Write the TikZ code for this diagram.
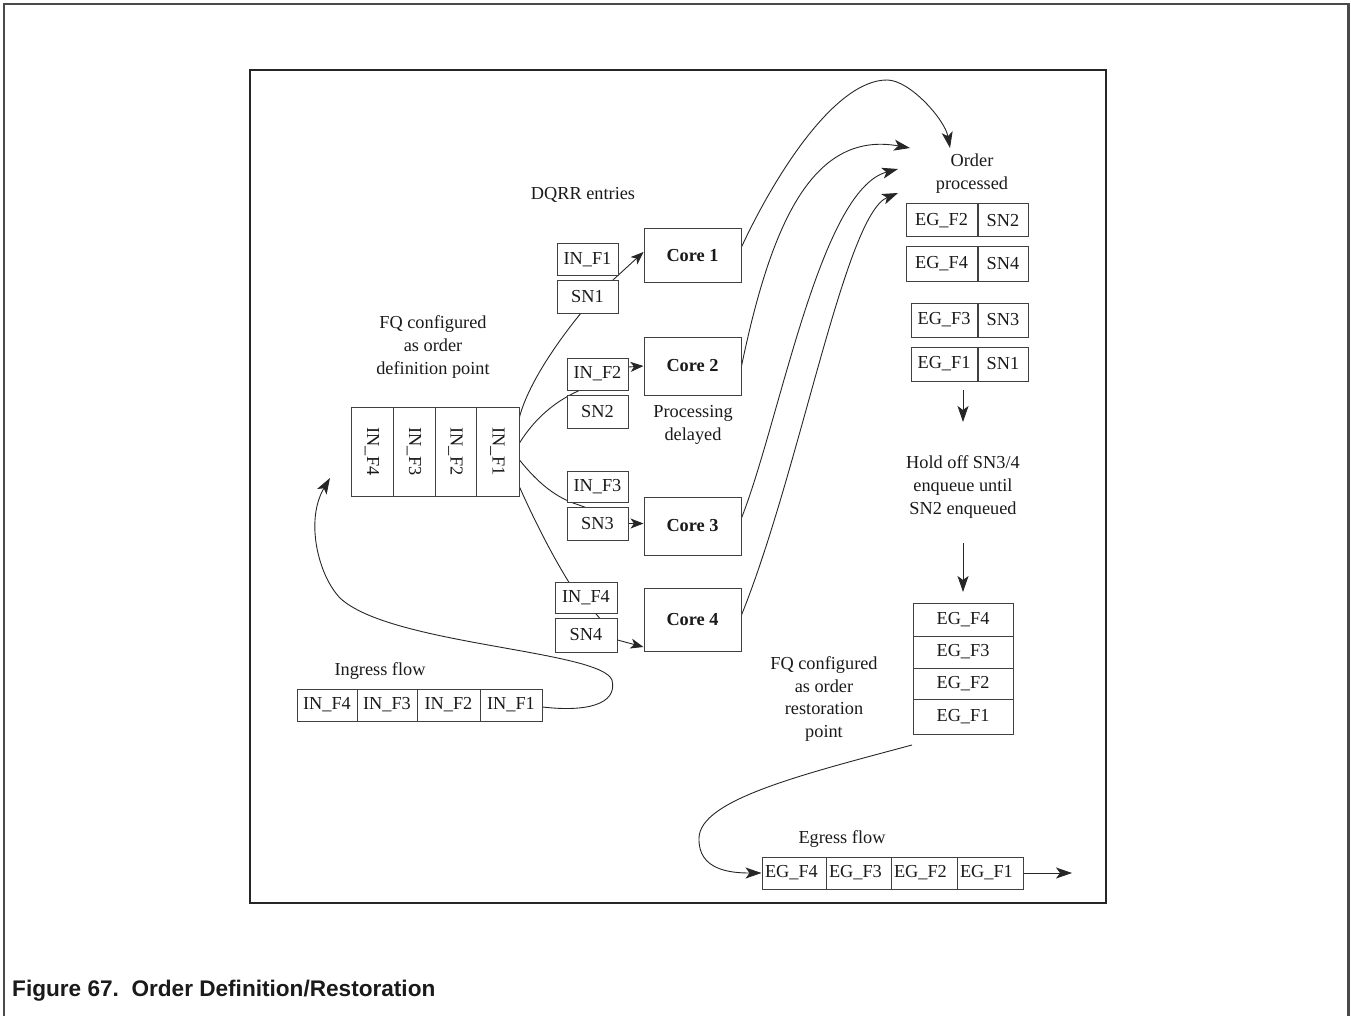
\documentclass[tikz,border=0pt]{standalone}
\usepackage{fontspec}
\setmainfont{Liberation Serif}
\newfontfamily\capfont{Liberation Sans}
\usetikzlibrary{arrows.meta,calc}
\pgfdeclarelayer{bg}
\pgfsetlayers{bg,main}
\definecolor{linec}{HTML}{262626}
\definecolor{boxc}{HTML}{404040}
\definecolor{txt}{HTML}{1a1a1a}
\definecolor{outc}{HTML}{4a4a4a}
\begin{document}
\begin{tikzpicture}[x=1pt,y=-1pt,
  every node/.style={text=txt},
  tx/.style={font=\fontsize{18.3}{22.7}\selectfont, align=center, inner sep=0pt},
  box/.style={draw=boxc, line width=1pt, fill=white, inner sep=0pt, font=\fontsize{18.3}{22}\selectfont},
  core/.style={box, font=\fontsize{18.3}{22}\selectfont\bfseries, minimum width=97pt},
  egcell/.style={box, inner xsep=3pt, align=left, minimum height=32pt},
  conn/.style={draw=linec, line width=0.9pt},
  arr/.style={conn, -{Stealth[length=16pt,width=11pt,inset=4pt]}},
  sarr/.style={conn, -{Stealth[length=13pt,width=10pt,inset=3.5pt]}},
]
\useasboundingbox (0,0) rectangle (1351,1016);
% frames
\draw[line width=2.5pt, draw=outc] (4,1016) -- (4,4) -- (1348.5,4) -- (1348.5,1016);
\draw[line width=1.2pt, draw=linec] (250,70) rectangle (1106,903);

% DQRR boxes and cores
\node[box, minimum width=61pt, minimum height=31pt] (inf1) at (587.5,259.5) {IN\_F1};
\node[box, minimum width=61pt, minimum height=33pt] (sn1) at (587.5,296.5) {SN1};
\node[core, minimum height=53pt] (core1) at (692.5,255.5) {Core 1};
\node[core, minimum height=58pt] (core2) at (692.5,366) {Core 2};
\node[box, minimum width=61pt, minimum height=32pt] (inf2) at (597.5,374) {IN\_F2};
\node[box, minimum width=61pt, minimum height=33pt] (sn2) at (597.5,411.5) {SN2};
\node[box, minimum width=61pt, minimum height=31pt] (inf3) at (597.5,486.5) {IN\_F3};
\node[box, minimum width=61pt, minimum height=33pt] (sn3) at (597.5,523.5) {SN3};
\node[core, minimum height=58pt] (core3) at (692.5,526) {Core 3};
\node[box, minimum width=62pt, minimum height=31pt] (inf4) at (586,597.5) {IN\_F4};
\node[box, minimum width=62pt, minimum height=34pt] (sn4) at (586,635) {SN4};
\node[core, minimum height=63pt] (core4) at (692.5,619.5) {Core 4};

% FQ order definition block
\node[box, minimum width=42pt, minimum height=89pt] (fq4) at (372,451.5) {};
\node[box, minimum width=42pt, minimum height=89pt] (fq3) at (414,451.5) {};
\node[box, minimum width=41pt, minimum height=89pt] (fq2) at (455.5,451.5) {};
\node[box, minimum width=43pt, minimum height=89pt] (fq1) at (497.5,451.5) {};
\node[tx, rotate=-90] (fq4t) at (fq4) {IN\_F4};
\node[tx, rotate=-90] (fq3t) at (fq3) {IN\_F3};
\node[tx, rotate=-90] (fq2t) at (fq2) {IN\_F2};
\node[tx, rotate=-90] (fq1t) at (fq1) {IN\_F1};

% order processed boxes
\node[box, minimum width=71pt, minimum height=33pt] (eg2) at (941.5,220.5) {EG\_F2};
\node[box, minimum width=50pt, minimum height=33pt, anchor=west] (es2) at (eg2.east) {SN2};
\node[box, minimum width=71pt, minimum height=34pt] (eg4) at (941.5,264) {EG\_F4};
\node[box, minimum width=50pt, minimum height=34pt, anchor=west] (es4) at (eg4.east) {SN4};
\node[box, minimum width=66pt, minimum height=34pt] (eg3) at (944,320) {EG\_F3};
\node[box, minimum width=50pt, minimum height=34pt, anchor=west] (es3) at (eg3.east) {SN3};
\node[box, minimum width=66pt, minimum height=34pt] (eg1) at (944,364) {EG\_F1};
\node[box, minimum width=50pt, minimum height=34pt, anchor=west] (es1) at (eg1.east) {SN1};

% restoration stack
\node[box, minimum width=100pt, minimum height=33pt] (st4) at (963,619.5) {EG\_F4};
\node[box, minimum width=100pt, minimum height=32pt] (st3) at (963,652) {EG\_F3};
\node[box, minimum width=100pt, minimum height=31pt] (st2) at (963,683.5) {EG\_F2};
\node[box, minimum width=100pt, minimum height=35pt] (st1) at (963,716.5) {EG\_F1};

% ingress flow
\node[box, minimum width=60pt, minimum height=32pt] (in4) at (327,705) {IN\_F4};
\node[box, minimum width=60pt, minimum height=32pt] (in3) at (387,705) {IN\_F3};
\node[box, minimum width=63pt, minimum height=32pt] (in2) at (448.5,705) {IN\_F2};
\node[box, minimum width=62pt, minimum height=32pt] (in1) at (511,705) {IN\_F1};

% egress flow
\node[egcell, text width=58pt] (eo4) at (794,873) {EG\_F4};
\node[egcell, text width=59pt] (eo3) at (858.5,873) {EG\_F3};
\node[egcell, text width=60pt] (eo2) at (924,873) {EG\_F2};
\node[egcell, text width=60pt] (eo1) at (990,873) {EG\_F1};

% texts
\node[tx] (dqrr) at (583,195) {DQRR entries};
\node[tx] (fqdef) at (433,347) {FQ configured\\as order\\definition point};
\node[tx] (proc) at (693,425) {Processing\\delayed};
\node[tx] (ordp) at (972,173.5) {Order\\processed};
\node[tx] (hold) at (963,487) {Hold off SN3/4\\enqueue until\\SN2 enqueued};
\node[tx] (fqres) at (824,699) {FQ configured\\as order\\restoration\\point};
\node[tx] (ingl) at (380,671) {Ingress flow};
\node[tx] (egl) at (842,839) {Egress flow};

\node[anchor=base west, inner sep=0pt, font=\capfont\bfseries\fontsize{22.6}{26}\selectfont] (caption) at (12,996) {Figure 67.\ \ Order Definition/Restoration};

% coordinates
\coordinate (h1s) at (963,390);
\coordinate (h1e) at (963,422);
\coordinate (h2s) at (963,543);
\coordinate (h2e) at (963,592);
\coordinate (egstart) at (912,745);
\coordinate (egout) at (1072,873);
\coordinate (ingtip) at (330,478);

\begin{pgfonlayer}{bg}
% FQ block to DQRR entries (hidden parts run under the boxes)
\draw[conn] ([yshift=34.5pt]fq1.east) .. controls (528,385) and (555,345) .. (581,313) -- ([xshift=-5pt]sn1.north east);
\draw[sarr] ([xshift=-5pt]sn1.north east) -- ([yshift=3.5pt]core1.west);
\draw[conn] ([yshift=8.5pt]fq1.east) .. controls (535,418) and (555,402) .. (576,392) -- ([yshift=7pt]inf2.east);
\draw[sarr] ([yshift=7pt]inf2.east) -- (core2.west);
\draw[conn] ([yshift=-8.5pt]fq1.east) .. controls (538,483) and (556,498) .. (579,505) -- (sn3.east);
\draw[sarr] (sn3.east) -- ([yshift=2.5pt]core3.west);
\draw[conn] ([yshift=-35.5pt]fq1.east) .. controls (532,515) and (550,552) .. (570,584) -- (597,615) -- ([yshift=-5pt]sn4.east);
\draw[sarr] ([yshift=-5pt]sn4.east) -- ([yshift=-27.5pt]core4.west);

% cores to order processed
\draw[arr] ([yshift=8.5pt]core1.east) .. controls (775,175) and (835,80) .. (887,80) .. controls (910,80) and (945,120) .. (950,148);
\draw[arr] (core2.east) .. controls (770,230) and (810,130) .. (910,148);
\draw[arr] ([yshift=8pt]core3.east) .. controls (780,420) and (820,190) .. (898,169);
\draw[arr] ([yshift=4.5pt]core4.east) .. controls (800,470) and (845,215) .. (898,193);

\draw[arr] (h1s) -- (h1e);
\draw[arr] (h2s) -- (h2e);

\draw[arr] ([yshift=-2pt]in1.east) .. controls (585,712) and (618,705) .. (612,680) .. controls (600,650) and (390,645) .. (340,598) .. controls (318,575) and (305,520) .. (ingtip);
\draw[arr] (egstart) .. controls (800,775) and (700,800) .. (699,838) .. controls (698,870) and (730,873) .. (eo4.west);
\draw[arr] (eo1.east) -- (egout);
\end{pgfonlayer}
\end{tikzpicture}
\end{document}
